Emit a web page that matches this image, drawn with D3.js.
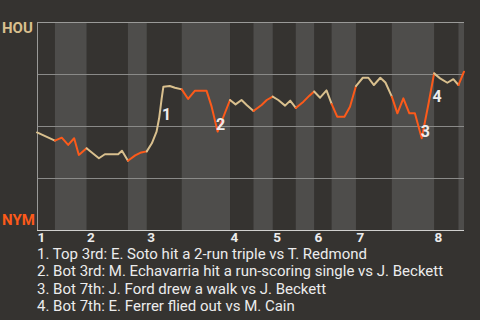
<!DOCTYPE html>
<html><head><meta charset="utf-8">
<script src="https://cdn.jsdelivr.net/npm/d3@7"></script>
<style>
html,body{margin:0;padding:0;background:#353330;}
svg{display:block;font-family:Roboto,"Noto Sans",sans-serif;}
</style>
</head><body>
<svg id="chart" width="480" height="320"></svg>
<script>
// ---- data ----
const progress = [0,4.2,5.8,7.3,8.7,9.8,11.6,14.5,15.9,19.0,19.9,21.3,23.0,24.4,25.7,26.9,28.0,28.6,29.2,29.6,31.1,32.3,33.9,35.4,37.0,39.7,40.9,42.3,45.2,46.5,47.9,49.1,50.7,52.6,53.8,55.2,56.5,58.1,59.3,60.6,62.4,63.8,64.9,66.3,67.8,69.0,70.3,72.0,73.3,74.7,76.3,77.6,78.9,80.4,81.6,83.1,84.4,85.8,87.2,88.5,90.1,91.7,93.0,94.4,96.1,97.5,98.7,100];
const houWinProb = [0.469,0.430,0.444,0.409,0.441,0.361,0.393,0.345,0.364,0.364,0.381,0.333,0.359,0.373,0.378,0.417,0.473,0.537,0.633,0.689,0.692,0.684,0.676,0.630,0.670,0.670,0.593,0.473,0.625,0.604,0.625,0.601,0.572,0.601,0.625,0.641,0.625,0.598,0.622,0.587,0.617,0.646,0.666,0.636,0.671,0.606,0.545,0.545,0.593,0.692,0.732,0.732,0.697,0.732,0.709,0.641,0.561,0.633,0.561,0.561,0.441,0.608,0.753,0.729,0.708,0.725,0.697,0.761];
const halfInningStarts = [0,4.2,11.6,21.3,25.7,33.9,45.2,50.7,55.2,60.6,64.9,69.0,74.7,83.1,93.0,98.7];
const progressEnd = 100;
const inningLabels = ["1","2","3","4","5","6","7","8"];
const gridValues = [0.25,0.5,0.75];
const teamTop = "HOU", teamBottom = "NYM";
const eventNumbers = ["1","2","3","4"];
const eventPoint = [17,27,60,61];
const eventTexts = [
  "1. Top 3rd: E. Soto hit a 2-run triple vs T. Redmond",
  "2. Bot 3rd: M. Echavarria hit a run-scoring single vs J. Beckett",
  "3. Bot 7th: J. Ford drew a walk vs J. Beckett",
  "4. Bot 7th: E. Ferrer flied out vs M. Cain"
];

// ---- style ----
const C = {bg:"#353330", band:"#4e4d4b", grid:"#8a8a88", frame:"#9a9a98", axis:"#d0d0ce",
  hou:"#d9c08e", nym:"#fc5a1a", text:"#ececec"};
const eventOffsets = [[3,2],[-1.5,-1.5],[-1,-1],[4,-2]];

const svg = d3.select("#chart");
const m = {left:37, right:464, top:22, bottom:230};
const x = d3.scaleLinear().domain([0, progressEnd]).range([m.left, m.right]);
const y = d3.scaleLinear().domain([0, 1]).range([m.bottom, m.top]);

svg.append("rect").attr("width",480).attr("height",320).attr("fill",C.bg);

const bounds = halfInningStarts.concat([progressEnd]);
const halves = halfInningStarts.map((s,i)=>({start:s, end:bounds[i+1], top:i%2===0}));

// bands for bottom halves
svg.append("g").selectAll("rect").data(halves.filter(h=>!h.top)).join("rect")
  .attr("x",d=>x(d.start)).attr("width",d=>x(d.end)-x(d.start))
  .attr("y",y(1)).attr("height",y(0)-y(1)).attr("fill",C.band);

// grid lines
svg.append("g").selectAll("line").data(gridValues).join("line")
  .attr("x1",x(0)).attr("x2",x(progressEnd)).attr("y1",d=>y(d)).attr("y2",d=>y(d))
  .attr("stroke",C.grid).attr("stroke-width",1).attr("shape-rendering","crispEdges");
svg.append("line").attr("x1",x(0)).attr("x2",x(progressEnd)).attr("y1",y(1)).attr("y2",y(1))
  .attr("stroke",C.frame).attr("shape-rendering","crispEdges");
svg.append("line").attr("x1",x(0)).attr("x2",x(0)).attr("y1",y(1)).attr("y2",y(0))
  .attr("stroke",C.frame).attr("shape-rendering","crispEdges");

// bottom axis
const inningStarts = halves.filter(h=>h.top).map(h=>h.start);
const xAxis = d3.axisBottom(x).tickValues(inningStarts).tickSize(0).tickPadding(0)
  .tickFormat((d,i)=>inningLabels[i]);
const ax = svg.append("g").attr("transform",`translate(0,${m.bottom})`).call(xAxis);
ax.select(".domain").attr("stroke",C.axis).attr("d",`M${x(0)},0.5H${x(progressEnd)}`);
ax.selectAll("text").attr("text-anchor","start").attr("fill",C.text)
  .attr("font-size",13.5).attr("font-weight","bold").attr("font-family","Roboto")
  .attr("dy",null).attr("y",11.5);

// team labels
svg.append("text").attr("x",2).attr("y",y(1)+11).text(teamTop)
  .attr("fill",C.hou).attr("font-size",15).attr("font-weight","bold");
svg.append("text").attr("x",2).attr("y",y(0)-5).text(teamBottom)
  .attr("fill",C.nym).attr("font-size",15).attr("font-weight","bold");

// line by half-inning
const pts = progress.map((p,i)=>({u:p, v:houWinProb[i]}));
const line = d3.line().x(d=>x(d.u)).y(d=>y(d.v));
svg.append("g").selectAll("path").data(halves).join("path")
  .attr("d",h=>line(pts.filter(p=>p.u>=h.start-1e-6 && p.u<=h.end+1e-6)))
  .attr("fill","none").attr("stroke",h=>h.top?C.hou:C.nym)
  .attr("stroke-width",2).attr("stroke-linejoin","round").attr("stroke-linecap","round");

// event markers
svg.append("g").selectAll("text").data(eventNumbers).join("text")
  .attr("x",(d,i)=>x(progress[eventPoint[i]])+eventOffsets[i][0])
  .attr("y",(d,i)=>y(houWinProb[eventPoint[i]])+eventOffsets[i][1])
  .text(d=>d).attr("fill",C.text).attr("font-size",16).attr("font-weight","bold");

// event list
svg.append("g").selectAll("text").data(eventTexts).join("text")
  .attr("x",37).attr("y",(d,i)=>258.5+i*17.6).text(d=>d)
  .attr("fill",C.text).attr("font-size",15);
</script>
</body></html>
